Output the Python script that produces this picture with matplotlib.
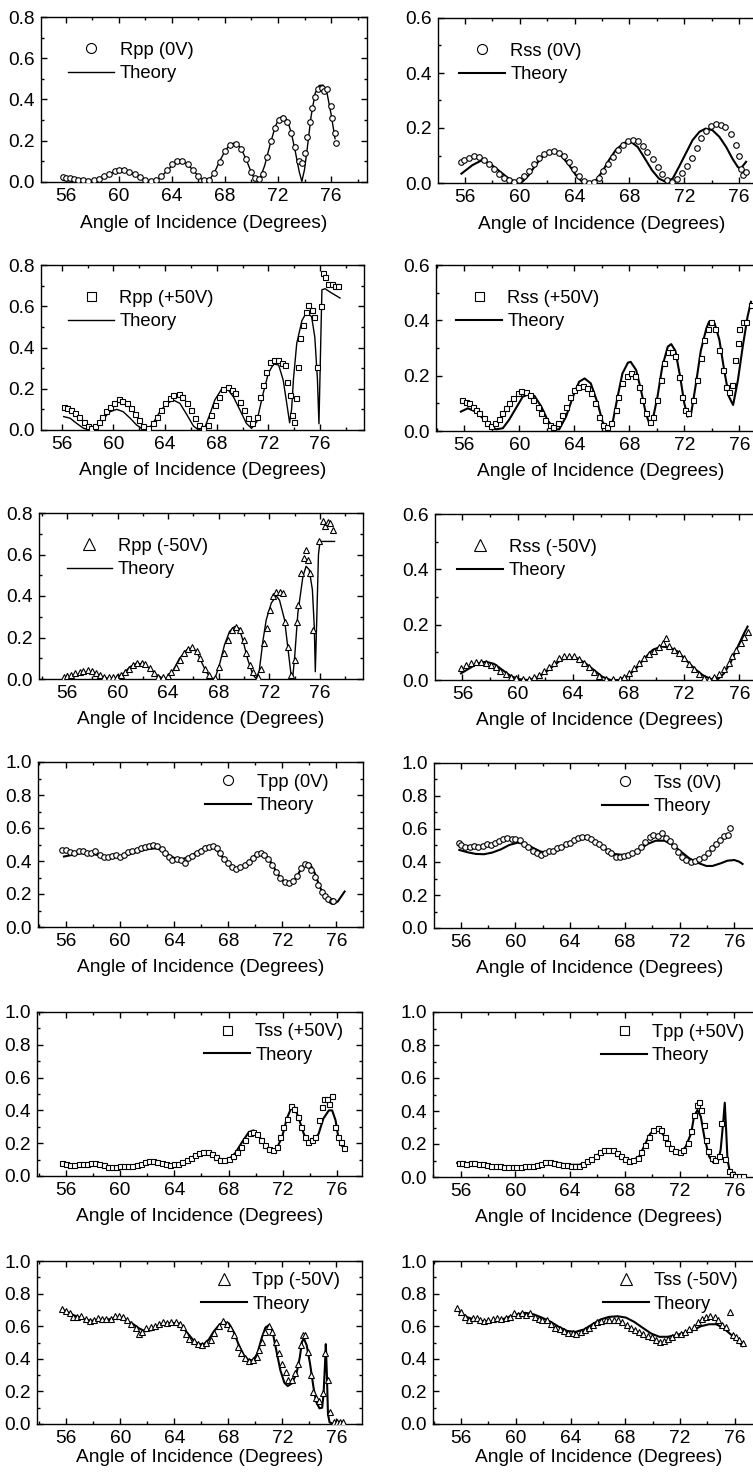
import matplotlib
matplotlib.use("Agg")
import matplotlib.pyplot as plt
from matplotlib.lines import Line2D
from matplotlib.ticker import MultipleLocator, FormatStrFormatter

plt.rcParams['font.family'] = ['Liberation Sans', 'DejaVu Sans']
plt.rcParams['font.size'] = 13

W, H = 753, 1476

# ---- Rpp (0V) ----
rpp_0v_ang = [55.8, 56.0, 56.3, 56.6, 56.9, 57.3, 57.7, 58.1, 58.5, 58.9, 59.3, 59.7, 60.0, 60.4, 60.8,
              61.2, 61.6, 62.0, 62.4, 62.8, 63.2, 63.6, 64.0, 64.4, 64.8, 65.2, 65.6, 66.0, 66.4, 66.8,
              67.2, 67.6, 68.0, 68.4, 68.8, 69.2, 69.6, 70.0, 70.3, 70.6, 70.9, 71.2, 71.5, 71.8, 72.1,
              72.4, 72.7, 73.0, 73.3, 73.6, 73.8, 74.0, 74.2, 74.4, 74.6, 74.8, 75.0, 75.3, 75.5, 75.7,
              76.0, 76.1, 76.3, 76.4]
rpp_0v = [0.022, 0.02, 0.018, 0.015, 0.012, 0.008, 0.005, 0.008, 0.015, 0.03, 0.04, 0.055, 0.06, 0.057, 0.05,
          0.04, 0.022, 0.01, 0.003, 0.01, 0.03, 0.06, 0.085, 0.1, 0.1, 0.085, 0.06, 0.03, 0.008, 0.012,
          0.045, 0.095, 0.15, 0.18, 0.185, 0.16, 0.11, 0.05, 0.02, 0.015, 0.04, 0.12, 0.2, 0.26, 0.3,
          0.31, 0.29, 0.24, 0.17, 0.1, 0.09, 0.14, 0.22, 0.29, 0.36, 0.41, 0.45, 0.455, 0.44, 0.45,
          0.37, 0.31, 0.24, 0.19]
rpp_0v_th_ang = [55.8, 56.3, 56.8, 57.2, 57.6, 58.0, 58.5, 59.0, 59.5, 60.0, 60.5, 61.0, 61.5, 62.0, 62.4,
                 62.8, 63.2, 63.6, 64.0, 64.5, 65.0, 65.5, 66.0, 66.4, 66.8, 67.2, 67.6, 68.0, 68.4, 68.8,
                 69.2, 69.6, 70.0, 70.3, 70.6, 71.0, 71.4, 71.8, 72.1, 72.4, 72.7, 73.0, 73.3, 73.6, 73.8,
                 74.0, 74.2, 74.5, 74.8, 75.1, 75.4, 75.7, 76.0, 76.3]
rpp_0v_th = [0.008, 0.006, 0.003, 0.001, 0.0, 0.004, 0.015, 0.03, 0.045, 0.053, 0.052, 0.043, 0.027, 0.01, 0.001,
             0.006, 0.025, 0.052, 0.078, 0.097, 0.092, 0.065, 0.028, 0.004, 0.008, 0.045, 0.1, 0.15, 0.183, 0.19,
             0.165, 0.11, 0.045, 0.008, 0.01, 0.08, 0.18, 0.27, 0.31, 0.32, 0.3, 0.24, 0.15, 0.05, 0.003,
             0.06, 0.16, 0.32, 0.43, 0.468, 0.47, 0.43, 0.33, 0.21]

# ---- Rss (0V) ----
rss_0v_ang = [55.7, 55.95, 56.3, 56.65, 57.0, 57.4, 57.75, 58.1, 58.5, 58.85, 59.2, 59.6, 59.95, 60.3, 60.65,
              61.05, 61.4, 61.75, 62.15, 62.5, 62.85, 63.25, 63.6, 63.95, 64.3, 64.7, 65.05, 65.4, 65.75, 66.1,
              66.45, 66.8, 67.15, 67.5, 67.9, 68.25, 68.6, 68.95, 69.3, 69.7, 70.05, 70.4, 70.75, 71.1, 71.45,
              71.8, 72.2, 72.55, 72.9, 73.25, 73.6, 73.95, 74.3, 74.65, 75.0, 75.4, 75.75, 76.0, 76.15, 76.3,
              76.5]
rss_0v = [0.077, 0.085, 0.092, 0.097, 0.095, 0.085, 0.068, 0.052, 0.034, 0.018, 0.01, 0.004, 0.01, 0.025, 0.045,
          0.068, 0.09, 0.105, 0.112, 0.116, 0.11, 0.097, 0.075, 0.05, 0.025, 0.006, 0.0, 0.004, 0.02, 0.042,
          0.068, 0.095, 0.12, 0.14, 0.154, 0.158, 0.152, 0.136, 0.112, 0.088, 0.058, 0.032, 0.012, 0.004, 0.014,
          0.036, 0.062, 0.092, 0.128, 0.163, 0.19, 0.206, 0.214, 0.212, 0.202, 0.18, 0.14, 0.1, 0.05, 0.03,
          0.04]
rss_0v_th_ang = [55.75, 56.55, 57.25, 57.85, 58.6, 59.2, 59.7, 60.2, 60.65, 61.15, 61.65, 62.15, 62.6, 63.1,
                 63.6, 64.1, 64.55, 65.05, 65.55, 66.0, 66.5, 67.0, 67.6, 68.1, 68.6, 69.05, 69.65, 70.15,
                 70.65, 71.15, 71.6, 72.1, 72.6, 73.1, 73.55, 74.05, 74.55, 75.05, 75.5, 75.9, 76.1, 76.5]
rss_0v_th = [0.034, 0.065, 0.083, 0.07, 0.04, 0.016, 0.004, 0.005, 0.028, 0.065, 0.095, 0.113, 0.113, 0.095,
             0.065, 0.028, 0.004, 0.0, 0.01, 0.04, 0.083, 0.12, 0.146, 0.15, 0.131, 0.095, 0.046, 0.016,
             0.004, 0.016, 0.058, 0.107, 0.156, 0.186, 0.198, 0.192, 0.168, 0.131, 0.089, 0.058, 0.052, 0.077]

# ---- Rpp (+50V) ----
rpp_p50_ang = [56.15, 56.4, 56.7, 57.05, 57.35, 57.7, 58.0, 58.3, 58.6, 58.85, 59.1, 59.45, 59.75, 60.05, 60.4,
               60.7, 61.05, 61.35, 61.7, 62.0, 62.3, 62.7, 63.05, 63.35, 63.65, 64.0, 64.35, 64.65, 65.05, 65.35,
               65.7, 66.0, 66.3, 66.65, 66.95, 67.3, 67.55, 67.85, 68.2, 68.5, 68.85, 69.15, 69.45, 69.8, 70.15,
               70.45, 70.75, 71.1, 71.35, 71.6, 71.85, 72.15, 72.45, 72.75, 73.05, 73.3, 73.45, 73.65, 73.8, 73.95,
               74.15, 74.3, 74.45, 74.7, 74.9, 75.1, 75.35, 75.55, 75.75, 76.05, 76.2, 76.4, 76.65, 76.9, 77.15,
               77.4]
rpp_p50 = [0.113, 0.105, 0.097, 0.084, 0.065, 0.04, 0.02, 0.01, 0.02, 0.04, 0.065, 0.09, 0.113, 0.13, 0.15,
           0.14, 0.13, 0.105, 0.08, 0.05, 0.02, 0.01, 0.032, 0.065, 0.097, 0.13, 0.153, 0.17, 0.175, 0.16,
           0.13, 0.097, 0.057, 0.024, 0.008, 0.024, 0.073, 0.12, 0.16, 0.2, 0.21, 0.194, 0.178, 0.137, 0.097,
           0.057, 0.032, 0.065, 0.16, 0.218, 0.283, 0.33, 0.34, 0.34, 0.323, 0.315, 0.234, 0.17, 0.073, 0.04,
           0.153, 0.307, 0.444, 0.51, 0.574, 0.606, 0.582, 0.55, 0.307, 0.6, 0.76, 0.74, 0.71, 0.71, 0.7,
           0.7]
rpp_p50_th_ang = [56.15, 56.65, 57.15, 57.7, 58.2, 58.7, 59.25, 59.75, 60.25, 60.75, 61.3, 61.8, 62.3, 62.7,
                  63.1, 63.6, 64.15, 64.65, 65.15, 65.7, 66.2, 66.6, 67.1, 67.5, 67.85, 68.4, 68.9, 69.3,
                  69.8, 70.3, 70.7, 71.1, 71.6, 72.0, 72.4, 72.8, 73.15, 73.4, 73.65, 73.8, 73.95, 74.2,
                  74.6, 74.95, 75.35, 75.6, 75.8, 75.92, 76.05, 76.15, 76.4, 76.75, 77.15, 77.55]
rpp_p50_th = [0.065, 0.057, 0.032, 0.008, 0.0, 0.016, 0.057, 0.089, 0.1, 0.089, 0.057, 0.024, 0.003, 0.003,
              0.036, 0.089, 0.129, 0.145, 0.129, 0.073, 0.019, 0.0, 0.016, 0.081, 0.145, 0.2, 0.194, 0.16,
              0.097, 0.032, 0.008, 0.04, 0.178, 0.275, 0.32, 0.315, 0.242, 0.14, 0.035, 0.1, 0.25, 0.42,
              0.53, 0.57, 0.55, 0.45, 0.25, 0.03, 0.4, 0.68, 0.685, 0.67, 0.655, 0.64]

# ---- Rss (+50V) ----
rss_p50_ang = [55.85, 56.1, 56.35, 56.6, 56.85, 57.1, 57.4, 57.65, 57.95, 58.25, 58.5, 58.75, 59.05, 59.25,
               59.55, 59.9, 60.15, 60.5, 60.8, 61.0, 61.35, 61.6, 61.9, 62.2, 62.45, 62.8, 63.1, 63.4, 63.7,
               64.0, 64.3, 64.6, 64.9, 65.2, 65.5, 65.8, 66.1, 66.4, 66.7, 67.0, 67.2, 67.5, 67.8, 68.1, 68.4,
               68.7, 68.95, 69.25, 69.5, 69.75, 70.0, 70.3, 70.55, 70.85, 71.1, 71.35, 71.6, 71.85, 72.05,
               72.3, 72.6, 72.9, 73.2, 73.45, 73.7, 73.95, 74.25, 74.55, 74.8, 75.05, 75.25, 75.5, 75.7, 75.9,
               76.0, 76.25, 76.5, 76.85]
rss_p50 = [0.112, 0.106, 0.1, 0.088, 0.076, 0.064, 0.046, 0.028, 0.018, 0.028, 0.042, 0.064, 0.082, 0.1,
           0.118, 0.136, 0.146, 0.142, 0.13, 0.112, 0.088, 0.064, 0.04, 0.022, 0.016, 0.03, 0.058, 0.088, 0.124,
           0.148, 0.16, 0.163, 0.154, 0.136, 0.1, 0.052, 0.022, 0.013, 0.03, 0.076, 0.124, 0.172, 0.2, 0.21, 0.2,
           0.16, 0.112, 0.064, 0.034, 0.052, 0.112, 0.184, 0.245, 0.287, 0.287, 0.27, 0.196, 0.124, 0.076,
           0.064, 0.112, 0.184, 0.263, 0.33, 0.367, 0.395, 0.367, 0.293, 0.22, 0.16, 0.142, 0.166, 0.257, 0.317,
           0.37, 0.395, 0.395, 0.455]
rss_p50_th_ang = [55.75, 56.25, 56.85, 57.35, 57.8, 58.3, 58.8, 59.25, 59.75, 60.25, 60.75, 61.1, 61.6, 62.05,
                  62.55, 62.9, 63.4, 63.9, 64.35, 64.75, 65.2, 65.7, 66.05, 66.4, 66.8, 67.15, 67.5, 67.9,
                  68.1, 68.5, 68.85, 69.2, 69.45, 69.7, 70.05, 70.4, 70.8, 71.05, 71.35, 71.7, 72.0, 72.25,
                  72.5, 72.85, 73.2, 73.6, 73.8, 74.2, 74.55, 74.9, 75.25, 75.55, 75.9, 76.25, 76.6, 76.85]
rss_p50_th = [0.07, 0.082, 0.07, 0.046, 0.022, 0.006, 0.01, 0.04, 0.082, 0.124, 0.134, 0.127, 0.088, 0.04,
              0.006, 0.006, 0.052, 0.124, 0.178, 0.19, 0.172, 0.1, 0.034, 0.004, 0.034, 0.124, 0.208, 0.247,
              0.25, 0.22, 0.148, 0.064, 0.028, 0.04, 0.124, 0.233, 0.305, 0.314, 0.29, 0.196, 0.1, 0.052,
              0.064, 0.172, 0.29, 0.37, 0.395, 0.39, 0.33, 0.22, 0.124, 0.094, 0.184, 0.305, 0.413, 0.467]

# ---- Rpp (-50V) ----
rpp_m50_ang = [55.75, 56.0, 56.3, 56.65, 57.0, 57.3, 57.65, 57.95, 58.3, 58.6, 58.95, 59.3, 59.6, 59.95, 60.25,
               60.6, 60.9, 61.25, 61.55, 61.9, 62.2, 62.55, 62.9, 63.2, 63.6, 64.0, 64.25, 64.6, 64.9, 65.25,
               65.6, 65.9, 66.25, 66.55, 66.9, 67.2, 67.7, 68.05, 68.4, 68.75, 69.05, 69.4, 69.7, 70.0, 70.15,
               70.45, 70.7, 71.1, 71.35, 71.6, 71.85, 72.05, 72.25, 72.55, 72.85, 73.1, 73.25, 73.45, 73.7, 74.0,
               74.2, 74.3, 74.5, 74.7, 74.9, 75.05, 75.2, 75.45, 75.95, 76.2, 76.4, 76.6, 76.8, 77.0]
rpp_m50 = [0.011, 0.014, 0.019, 0.027, 0.035, 0.04, 0.043, 0.039, 0.03, 0.019, 0.011, 0.008, 0.008, 0.011, 0.019,
           0.035, 0.05, 0.068, 0.076, 0.079, 0.072, 0.051, 0.03, 0.011, 0.008, 0.014, 0.035, 0.06, 0.092, 0.124,
           0.145, 0.156, 0.137, 0.1, 0.05, 0.019, 0.006, 0.06, 0.124, 0.188, 0.237, 0.253, 0.237, 0.188, 0.124,
           0.068, 0.035, 0.011, 0.05, 0.172, 0.245, 0.333, 0.4, 0.42, 0.42, 0.414, 0.277, 0.156, 0.019, 0.092,
           0.277, 0.357, 0.51, 0.583, 0.623, 0.575, 0.51, 0.237, 0.663, 0.76, 0.736, 0.755, 0.75, 0.72]
rpp_m50_th_ang = [55.75, 56.4, 57.05, 57.65, 58.25, 58.9, 59.4, 59.95, 60.45, 61.0, 61.5, 62.05, 62.55, 63.1,
                  63.6, 64.0, 64.4, 64.9, 65.45, 65.85, 66.25, 66.65, 67.0, 67.4, 67.7, 68.05, 68.45, 68.85,
                  69.25, 69.6, 69.9, 70.3, 70.7, 70.95, 71.2, 71.5, 71.75, 72.15, 72.55, 72.8, 73.2, 73.45,
                  73.7, 73.85, 74.0, 74.25, 74.65, 74.9, 75.15, 75.4, 75.55, 75.63, 75.75, 75.88, 76.0, 77.15]
rpp_m50_th = [0.003, 0.011, 0.027, 0.035, 0.024, 0.008, 0.003, 0.008, 0.027, 0.06, 0.076, 0.072, 0.05, 0.02,
              0.003, 0.003, 0.043, 0.1, 0.14, 0.148, 0.132, 0.08, 0.035, 0.003, 0.003, 0.068, 0.164, 0.229,
              0.253, 0.245, 0.188, 0.092, 0.02, 0.003, 0.04, 0.188, 0.285, 0.366, 0.4, 0.38, 0.285, 0.156,
              0.027, 0.01, 0.108, 0.317, 0.494, 0.543, 0.527, 0.43, 0.25, 0.035, 0.3, 0.6, 0.663, 0.663]

# ---- Rss (-50V) ----
rss_m50_ang = [55.9, 56.25, 56.6, 56.95, 57.35, 57.7, 58.05, 58.4, 58.75, 59.15, 59.5, 59.85, 60.35, 60.8, 61.2,
               61.55, 61.9, 62.25, 62.65, 63.0, 63.35, 63.7, 64.05, 64.45, 64.8, 65.15, 65.5, 65.9, 66.35, 66.85,
               67.35, 67.7, 68.05, 68.4, 68.75, 69.15, 69.5, 69.85, 70.2, 70.5, 70.7, 70.95, 71.3, 71.65, 72.0,
               72.4, 72.75, 73.1, 73.45, 73.85, 74.2, 74.55, 74.9, 75.25, 75.5, 75.8, 76.1, 76.35, 76.6]
rss_m50 = [0.042, 0.054, 0.063, 0.066, 0.066, 0.063, 0.054, 0.046, 0.034, 0.022, 0.012, 0.006, 0.002, 0.002, 0.01,
           0.018, 0.034, 0.048, 0.063, 0.078, 0.087, 0.085, 0.087, 0.075, 0.063, 0.046, 0.03, 0.014, 0.005, 0.002,
           0.005, 0.012, 0.027, 0.042, 0.06, 0.078, 0.094, 0.106, 0.121, 0.133, 0.151, 0.123, 0.109, 0.097, 0.078,
           0.058, 0.039, 0.022, 0.006, 0.002, 0.01, 0.02, 0.039, 0.06, 0.085, 0.109, 0.133, 0.157, 0.175]
rss_m50_th_ang = [55.9, 56.5, 57.1, 57.7, 58.3, 58.9, 59.5, 60.1, 60.7, 61.3, 61.9, 62.5, 63.1, 63.7, 64.3, 64.9,
                  65.5, 66.1, 66.7, 67.3, 67.95, 68.55, 69.15, 69.75, 70.35, 70.95, 71.55, 72.15, 72.75, 73.35,
                  73.95, 74.45, 74.9, 75.4, 75.9, 76.35, 76.6]
rss_m50_th = [0.024, 0.042, 0.06, 0.066, 0.058, 0.036, 0.014, 0.003, 0.0, 0.006, 0.024, 0.048, 0.072, 0.081,
              0.078, 0.06, 0.036, 0.012, 0.0, 0.0, 0.014, 0.042, 0.078, 0.109, 0.121, 0.118, 0.103, 0.072,
              0.042, 0.018, 0.003, 0.003, 0.024, 0.066, 0.121, 0.169, 0.193]

# ---- Tpp (0V) ----
tpp_0v_ang = [55.7, 56.0, 56.3, 56.6, 56.95, 57.25, 57.55, 57.85, 58.15, 58.5, 58.8, 59.1, 59.4, 59.7, 60.0,
              60.3, 60.6, 60.9, 61.25, 61.55, 61.85, 62.15, 62.45, 62.75, 63.1, 63.35, 63.6, 63.85, 64.2, 64.5,
              64.8, 65.05, 65.35, 65.65, 65.95, 66.3, 66.6, 66.9, 67.15, 67.4, 67.7, 68.0, 68.3, 68.6, 68.9,
              69.25, 69.5, 69.8, 70.1, 70.4, 70.65, 70.95, 71.25, 71.55, 71.85, 72.2, 72.5, 72.8, 73.1, 73.4,
              73.65, 73.9, 74.15, 74.4, 74.65, 74.9, 75.15, 75.4, 75.65, 75.75]
tpp_0v = [0.467, 0.467, 0.457, 0.447, 0.463, 0.463, 0.451, 0.451, 0.461, 0.437, 0.427, 0.423, 0.433, 0.435, 0.427,
          0.437, 0.457, 0.463, 0.467, 0.477, 0.487, 0.491, 0.495, 0.491, 0.471, 0.447, 0.423, 0.406, 0.41, 0.406,
          0.39, 0.416, 0.43, 0.447, 0.463, 0.477, 0.483, 0.491, 0.477, 0.447, 0.41, 0.386, 0.366, 0.35, 0.362,
          0.376, 0.396, 0.42, 0.44, 0.447, 0.437, 0.41, 0.376, 0.336, 0.296, 0.27, 0.266, 0.276, 0.31, 0.356,
          0.382, 0.376, 0.346, 0.306, 0.255, 0.215, 0.185, 0.169, 0.155, 0.159]
tpp_0v_th_ang = [55.85, 56.45, 57.05, 57.65, 58.3, 58.9, 59.5, 60.15, 60.75, 61.35, 62.0, 62.6, 63.1, 63.6,
                 64.05, 64.55, 65.05, 65.55, 66.05, 66.55, 66.9, 67.25, 67.65, 68.0, 68.35, 68.65, 69.0, 69.35,
                 69.75, 70.1, 70.45, 70.85, 71.2, 71.55, 71.95, 72.3, 72.7, 73.05, 73.4, 73.75, 74.05, 74.4,
                 74.75, 75.15, 75.5, 75.8, 76.1, 76.35, 76.6]
tpp_0v_th = [0.427, 0.437, 0.447, 0.447, 0.437, 0.427, 0.423, 0.427, 0.443, 0.457, 0.471, 0.477, 0.467, 0.437,
             0.416, 0.41, 0.423, 0.447, 0.471, 0.487, 0.483, 0.457, 0.416, 0.382, 0.356, 0.346, 0.356, 0.386,
             0.416, 0.443, 0.447, 0.427, 0.386, 0.336, 0.286, 0.262, 0.266, 0.302, 0.356, 0.386, 0.382, 0.326,
             0.245, 0.185, 0.149, 0.141, 0.155, 0.185, 0.215]

# ---- Tss (0V) ----
tss_0v_ang = [55.85, 56.05, 56.35, 56.65, 57.0, 57.3, 57.6, 57.9, 58.2, 58.5, 58.8, 59.1, 59.4, 59.75, 60.0,
              60.3, 60.65, 60.95, 61.25, 61.55, 61.85, 62.15, 62.45, 62.75, 63.05, 63.35, 63.7, 64.0, 64.3, 64.6,
              64.9, 65.2, 65.5, 65.8, 66.1, 66.4, 66.75, 67.0, 67.35, 67.65, 67.95, 68.25, 68.55, 68.85, 69.15,
              69.45, 69.8, 70.05, 70.4, 70.7, 71.0, 71.3, 71.6, 71.9, 72.2, 72.5, 72.85, 73.1, 73.45, 73.75,
              74.05, 74.35, 74.65, 74.95, 75.25, 75.5, 75.7]
tss_0v = [0.513, 0.503, 0.493, 0.489, 0.497, 0.493, 0.497, 0.509, 0.505, 0.517, 0.529, 0.537, 0.543, 0.539, 0.541,
          0.533, 0.509, 0.493, 0.469, 0.453, 0.443, 0.457, 0.469, 0.467, 0.483, 0.493, 0.507, 0.517, 0.533, 0.543,
          0.553, 0.553, 0.537, 0.523, 0.509, 0.493, 0.469, 0.457, 0.429, 0.433, 0.437, 0.443, 0.453, 0.469, 0.493,
          0.523, 0.549, 0.563, 0.557, 0.573, 0.543, 0.529, 0.497, 0.463, 0.433, 0.412, 0.402, 0.406, 0.416, 0.433,
          0.457, 0.483, 0.509, 0.533, 0.557, 0.563, 0.604]
tss_0v_th_ang = [55.9, 56.5, 57.1, 57.7, 58.3, 58.95, 59.55, 60.15, 60.75, 61.35, 61.85, 62.35, 62.95, 63.55,
                 64.15, 64.8, 65.4, 66.0, 66.6, 67.2, 67.85, 68.45, 69.05, 69.65, 70.25, 70.9, 71.5, 72.1,
                 72.7, 73.3, 73.95, 74.4, 75.0, 75.5, 76.0, 76.35, 76.6]
tss_0v_th = [0.473, 0.459, 0.449, 0.447, 0.457, 0.477, 0.503, 0.517, 0.509, 0.483, 0.463, 0.457, 0.463, 0.493,
             0.523, 0.549, 0.543, 0.513, 0.477, 0.449, 0.443, 0.449, 0.473, 0.509, 0.529, 0.529, 0.503, 0.463,
             0.423, 0.396, 0.376, 0.376, 0.392, 0.408, 0.412, 0.402, 0.388]

# ---- Tss (+50V) ----
tss_p50_ang = [55.7, 56.0, 56.3, 56.6, 56.95, 57.25, 57.55, 57.85, 58.15, 58.45, 58.8, 59.1, 59.4, 59.7, 60.0,
               60.3, 60.6, 60.9, 61.25, 61.55, 61.85, 62.15, 62.45, 62.75, 63.1, 63.4, 63.7, 64.0, 64.3, 64.6,
               64.95, 65.25, 65.55, 65.85, 66.15, 66.45, 66.75, 67.05, 67.4, 67.7, 68.0, 68.3, 68.6, 68.9, 69.25,
               69.55, 69.8, 70.1, 70.4, 70.7, 71.0, 71.3, 71.55, 71.8, 72.05, 72.3, 72.6, 72.85, 73.1, 73.35,
               73.65, 73.9, 74.15, 74.4, 74.65, 74.9, 75.05, 75.25, 75.45, 75.65, 75.85, 76.05, 76.3, 76.55]
tss_p50 = [0.079, 0.075, 0.069, 0.067, 0.071, 0.071, 0.073, 0.079, 0.079, 0.071, 0.065, 0.055, 0.055, 0.055, 0.059,
           0.059, 0.063, 0.063, 0.069, 0.075, 0.085, 0.091, 0.089, 0.085, 0.079, 0.071, 0.069, 0.071, 0.075, 0.085,
           0.1, 0.112, 0.13, 0.14, 0.146, 0.146, 0.136, 0.116, 0.1, 0.096, 0.106, 0.12, 0.146, 0.177, 0.217,
           0.262, 0.268, 0.254, 0.222, 0.187, 0.167, 0.156, 0.177, 0.238, 0.299, 0.35, 0.425, 0.41, 0.36, 0.299,
           0.238, 0.207, 0.217, 0.238, 0.339, 0.421, 0.472, 0.472, 0.437, 0.486, 0.299, 0.238, 0.207, 0.173]
tss_p50_th_ang = [55.7, 56.45, 57.2, 57.9, 58.65, 59.4, 60.15, 60.85, 61.6, 62.2, 62.85, 63.45, 64.05, 64.7,
                  65.2, 65.65, 66.15, 66.55, 67.0, 67.5, 68.0, 68.5, 69.0, 69.5, 69.85, 70.2, 70.7, 71.2,
                  71.55, 71.95, 72.3, 72.6, 72.85, 73.15, 73.55, 73.9, 74.3, 74.65, 75.0, 75.4, 75.65, 75.9,
                  76.1, 76.35, 76.55]
tss_p50_th = [0.075, 0.069, 0.071, 0.079, 0.065, 0.055, 0.055, 0.065, 0.075, 0.089, 0.085, 0.071, 0.071, 0.085,
              0.106, 0.132, 0.146, 0.146, 0.126, 0.096, 0.1, 0.14, 0.207, 0.268, 0.278, 0.248, 0.187, 0.156,
              0.167, 0.238, 0.35, 0.41, 0.421, 0.36, 0.258, 0.207, 0.213, 0.258, 0.35, 0.4, 0.4, 0.339,
              0.238, 0.187, 0.167]

# ---- Tpp (+50V) ----
tpp_p50_ang = [55.85, 56.1, 56.4, 56.75, 57.0, 57.35, 57.65, 57.95, 58.25, 58.55, 58.85, 59.15, 59.45, 59.8, 60.05,
               60.4, 60.7, 61.0, 61.3, 61.6, 61.9, 62.2, 62.5, 62.85, 63.1, 63.45, 63.75, 64.05, 64.35, 64.65,
               64.95, 65.25, 65.55, 65.9, 66.15, 66.5, 66.8, 67.1, 67.4, 67.7, 68.0, 68.3, 68.6, 68.95, 69.2,
               69.5, 69.8, 70.05, 70.4, 70.65, 70.9, 71.1, 71.35, 71.65, 72.0, 72.25, 72.6, 72.85, 73.05, 73.25,
               73.4, 73.55, 73.75, 73.95, 74.1, 74.35, 74.6, 74.85, 75.0, 75.35, 75.6, 75.85, 76.05, 76.35, 76.6]
tpp_p50 = [0.085, 0.085, 0.08, 0.085, 0.082, 0.078, 0.078, 0.072, 0.066, 0.064, 0.064, 0.062, 0.06, 0.058, 0.058,
           0.058, 0.064, 0.064, 0.068, 0.074, 0.08, 0.089, 0.089, 0.085, 0.08, 0.074, 0.07, 0.068, 0.064, 0.068,
           0.08, 0.095, 0.109, 0.129, 0.149, 0.161, 0.165, 0.161, 0.145, 0.125, 0.111, 0.1, 0.105, 0.115, 0.149,
           0.195, 0.245, 0.286, 0.296, 0.286, 0.245, 0.209, 0.175, 0.155, 0.149, 0.165, 0.205, 0.276, 0.376, 0.437,
           0.457, 0.406, 0.316, 0.225, 0.155, 0.115, 0.105, 0.125, 0.326, 0.109, 0.034, 0.02, 0.008, 0.004, 0.004]
tpp_p50_th_ang = [55.75, 56.5, 57.2, 57.95, 58.7, 59.4, 60.15, 60.9, 61.6, 62.2, 62.85, 63.45, 64.05, 64.65,
                  65.25, 65.75, 66.25, 66.75, 67.1, 67.6, 68.05, 68.55, 69.05, 69.4, 69.8, 70.15, 70.5, 70.9,
                  71.35, 71.75, 72.1, 72.45, 72.85, 73.05, 73.3, 73.55, 73.8, 74.15, 74.45, 74.8, 75.0, 75.2,
                  75.3, 75.4, 75.5, 75.7, 76.0, 76.6]
tpp_p50_th = [0.085, 0.08, 0.08, 0.074, 0.064, 0.06, 0.054, 0.06, 0.074, 0.089, 0.089, 0.08, 0.074, 0.074,
              0.089, 0.115, 0.149, 0.165, 0.161, 0.135, 0.109, 0.1, 0.125, 0.185, 0.256, 0.29, 0.29, 0.245,
              0.185, 0.155, 0.149, 0.185, 0.266, 0.366, 0.406, 0.366, 0.245, 0.125, 0.089, 0.095, 0.165, 0.346,
              0.45, 0.286, 0.105, 0.02, 0.004, 0.004]

# ---- Tpp (-50V) ----
tpp_m50_ang = [55.7, 55.95, 56.25, 56.5, 56.8, 57.1, 57.45, 57.75, 58.05, 58.35, 58.65, 58.95, 59.3, 59.6, 59.9,
               60.2, 60.5, 60.8, 61.15, 61.4, 61.6, 61.9, 62.25, 62.55, 62.85, 63.15, 63.45, 63.75, 64.1, 64.4,
               64.65, 64.85, 65.1, 65.45, 65.75, 66.05, 66.35, 66.7, 66.95, 67.3, 67.6, 67.9, 68.15, 68.4, 68.7,
               68.95, 69.2, 69.5, 69.8, 70.1, 70.3, 70.5, 70.75, 71.0, 71.25, 71.5, 71.75, 72.0, 72.25, 72.45,
               72.7, 72.95, 73.15, 73.35, 73.55, 73.7, 73.9, 74.1, 74.3, 74.5, 74.75, 75.0, 75.18, 75.38, 75.55,
               75.8, 76.05, 76.3, 76.5]
tpp_m50 = [0.708, 0.694, 0.678, 0.657, 0.657, 0.663, 0.645, 0.633, 0.637, 0.653, 0.645, 0.643, 0.647, 0.661, 0.661,
           0.657, 0.637, 0.616, 0.586, 0.555, 0.565, 0.586, 0.596, 0.6, 0.612, 0.627, 0.62, 0.627, 0.627, 0.612,
           0.596, 0.555, 0.524, 0.51, 0.49, 0.484, 0.494, 0.518, 0.559, 0.6, 0.631, 0.616, 0.586, 0.545, 0.473,
           0.433, 0.402, 0.388, 0.392, 0.412, 0.453, 0.504, 0.565, 0.6, 0.565, 0.504, 0.433, 0.371, 0.32, 0.273,
           0.269, 0.31, 0.371, 0.484, 0.545, 0.545, 0.443, 0.3, 0.198, 0.157, 0.143, 0.188, 0.433, 0.269, 0.076,
           0.012, 0.01, 0.01, 0.01]
tpp_m50_th_ang = [55.7, 56.05, 56.55, 57.2, 57.8, 58.4, 59.05, 59.65, 60.25, 60.9, 61.4, 61.85, 62.35, 62.85,
                  63.35, 63.85, 64.35, 64.7, 65.1, 65.45, 65.8, 66.2, 66.55, 66.9, 67.3, 67.65, 68.05, 68.4,
                  68.75, 69.15, 69.5, 69.85, 70.15, 70.5, 70.75, 71.0, 71.25, 71.55, 71.85, 72.15, 72.4, 72.7,
                  73.05, 73.3, 73.45, 73.6, 73.8, 74.05, 74.3, 74.5, 74.75, 74.95, 75.05, 75.15, 75.22, 75.3,
                  75.38, 75.5, 75.8, 76.5]
tpp_m50_th = [0.702, 0.688, 0.667, 0.647, 0.633, 0.637, 0.641, 0.649, 0.641, 0.616, 0.586, 0.569, 0.576, 0.6,
              0.616, 0.62, 0.616, 0.586, 0.545, 0.51, 0.49, 0.49, 0.518, 0.565, 0.606, 0.627, 0.616, 0.565,
              0.49, 0.422, 0.392, 0.392, 0.433, 0.535, 0.592, 0.606, 0.576, 0.453, 0.331, 0.253, 0.233, 0.249,
              0.31, 0.412, 0.504, 0.524, 0.484, 0.371, 0.229, 0.137, 0.096, 0.1, 0.18, 0.35, 0.49, 0.3,
              0.06, 0.01, 0.0, 0.0]

# ---- Tss (-50V) ----
tss_m50_ang = [55.7, 56.0, 56.3, 56.6, 56.85, 57.15, 57.4, 57.7, 58.0, 58.3, 58.6, 58.95, 59.25, 59.55, 59.85,
               60.15, 60.45, 60.75, 61.05, 61.4, 61.7, 61.95, 62.3, 62.6, 62.9, 63.2, 63.5, 63.8, 64.15, 64.4,
               64.75, 65.05, 65.35, 65.65, 65.95, 66.25, 66.6, 66.85, 67.2, 67.5, 67.8, 68.1, 68.4, 68.7, 69.0,
               69.3, 69.65, 69.95, 70.25, 70.55, 70.85, 71.15, 71.45, 71.75, 72.1, 72.4, 72.7, 73.0, 73.3, 73.6,
               73.9, 74.2, 74.55, 74.8, 75.05, 75.4, 75.65, 75.9, 76.1, 76.35, 76.6]
tss_m50 = [0.714, 0.688, 0.657, 0.637, 0.653, 0.653, 0.637, 0.633, 0.637, 0.647, 0.653, 0.645, 0.653, 0.657, 0.682,
           0.667, 0.678, 0.671, 0.678, 0.657, 0.647, 0.641, 0.637, 0.612, 0.592, 0.58, 0.569, 0.559, 0.559, 0.555,
           0.565, 0.576, 0.592, 0.606, 0.627, 0.633, 0.641, 0.637, 0.641, 0.637, 0.627, 0.606, 0.592, 0.576, 0.565,
           0.551, 0.539, 0.531, 0.518, 0.504, 0.51, 0.524, 0.535, 0.551, 0.555, 0.565, 0.58, 0.596, 0.627, 0.647,
           0.657, 0.661, 0.657, 0.637, 0.606, 0.596, 0.688, 0.545, 0.535, 0.518, 0.494]
tss_m50_th_ang = [55.8, 56.4, 57.05, 57.65, 58.25, 58.85, 59.5, 60.1, 60.7, 61.3, 61.9, 62.55, 63.15, 63.75,
                  64.35, 65.0, 65.6, 66.2, 66.8, 67.45, 68.05, 68.65, 69.25, 69.9, 70.5, 71.1, 71.7, 72.35,
                  72.95, 73.55, 74.15, 74.65, 75.15, 75.65, 76.1, 76.6]
tss_m50_th = [0.694, 0.657, 0.637, 0.631, 0.627, 0.637, 0.657, 0.673, 0.682, 0.673, 0.653, 0.627, 0.596, 0.571,
              0.565, 0.58, 0.612, 0.641, 0.657, 0.661, 0.653, 0.627, 0.592, 0.555, 0.535, 0.535, 0.545, 0.559,
              0.576, 0.6, 0.612, 0.612, 0.592, 0.555, 0.524, 0.478]

x_ticks = [56, 60, 64, 68, 72, 76]
x_label = "Angle of Incidence (Degrees)"

# layout in pixels: (left, right, top, bottom), x limits, legend side + anchor, xlabel pad
panels = [
    ("Rpp (0V)", "o", rpp_0v_ang, rpp_0v, rpp_0v_th_ang, rpp_0v_th, 0.8, 1.0,
     (41, 367, 17, 182), (54.14, 78.71), "left", (0.084, 0.85), 7),
    ("Rss (0V)", "o", rss_0v_ang, rss_0v, rss_0v_th_ang, rss_0v_th, 0.6, 1.5,
     (438, 765, 18, 183), (54.04, 77.88), "left", (0.064, 0.85), 7),
    ("Rpp (+50V)", "s", rpp_p50_ang, rpp_p50, rpp_p50_th_ang, rpp_p50_th, 0.8, 1.0,
     (41, 364, 265, 430), (54.39, 79.41), "left", (0.084, 0.85), 6),
    ("Rss (+50V)", "s", rss_p50_ang, rss_p50, rss_p50_th_ang, rss_p50_th, 0.6, 1.5,
     (436, 765, 265, 431), (53.94, 77.87), "left", (0.061, 0.85), 6),
    ("Rpp (-50V)", "^", rpp_m50_ang, rpp_m50, rpp_m50_th_ang, rpp_m50_th, 0.8, 1.0,
     (39, 363, 513, 679), (53.79, 79.40), "left", (0.085, 0.85), 6),
    ("Rss (-50V)", "^", rss_m50_ang, rss_m50, rss_m50_th_ang, rss_m50_th, 0.6, 1.5,
     (435, 765, 514, 680), (54.02, 77.86), "left", (0.068, 0.85), 6),
    ("Tpp (0V)", "o", tpp_0v_ang, tpp_0v, tpp_0v_th_ang, tpp_0v_th, 1.0, 1.5,
     (38, 363, 762, 927), (53.93, 77.96), "right", (0.893, 0.93), 6),
    ("Tss (0V)", "o", tss_0v_ang, tss_0v, tss_0v_th_ang, tss_0v_th, 1.0, 1.5,
     (434, 765, 763, 928), (54.05, 78.24), "right", (0.867, 0.93), 6),
    ("Tss (+50V)", "s", tss_p50_ang, tss_p50, tss_p50_th_ang, tss_p50_th, 1.0, 1.5,
     (37, 362, 1012, 1176), (53.86, 77.85), "right", (0.943, 0.93), 6),
    ("Tpp (+50V)", "s", tpp_p50_ang, tpp_p50, tpp_p50_th_ang, tpp_p50_th, 1.0, 1.5,
     (433, 765, 1012, 1177), (53.98, 78.24), "right", (0.938, 0.93), 6),
    ("Tpp (-50V)", "^", tpp_m50_ang, tpp_m50, tpp_m50_th_ang, tpp_m50_th, 1.0, 1.5,
     (37, 362, 1261, 1424), (53.83, 77.90), "right", (0.933, 0.93), 1),
    ("Tss (-50V)", "^", tss_m50_ang, tss_m50, tss_m50_th_ang, tss_m50_th, 1.0, 1.5,
     (433, 765, 1261, 1424), (53.94, 78.23), "right", (0.918, 0.93), 1),
]

marker_size = {"o": 4.0, "s": 3.6, "^": 4.4}

fig = plt.figure(figsize=(W / 100, H / 100), dpi=100)

for (name, mk, ang, val, th_ang, th_val, ymax, lw, box, xlim, side, anchor, lpad) in panels:
    left, right, top, bottom = box
    ax = fig.add_axes([left / W, 1 - bottom / H, (right - left) / W, (bottom - top) / H])

    ax.plot(th_ang, th_val, color="black", lw=lw, zorder=2)
    ax.plot(ang, val, linestyle="none", marker=mk, ms=marker_size[mk], mfc="white",
            mec="black", mew=0.8, zorder=3)

    ax.set_xlim(*xlim)
    ax.set_ylim(0, ymax)
    ax.set_xticks(x_ticks)
    ax.xaxis.set_minor_locator(MultipleLocator(2))
    ax.yaxis.set_major_locator(MultipleLocator(0.2))
    ax.yaxis.set_minor_locator(MultipleLocator(0.1))
    ax.yaxis.set_major_formatter(FormatStrFormatter("%.1f"))
    ax.tick_params(which="both", direction="in", top=True, right=True, width=1.0, labelsize=13.8)
    ax.tick_params(which="major", length=4, pad=4.5)
    ax.tick_params(which="minor", length=2)
    for sp in ax.spines.values():
        sp.set_linewidth(1.0)
    ax.set_xlabel(x_label, fontsize=13.8, labelpad=lpad)

    handles = [
        Line2D([], [], linestyle="none", marker=mk, ms=marker_size[mk], mfc="white", mec="black", mew=0.8),
        Line2D([], [], color="black", lw=lw),
    ]
    loc = "upper left" if side == "left" else "upper right"
    ax.legend(handles, [name, "Theory"], loc=loc, bbox_to_anchor=anchor, frameon=False,
              fontsize=13.2, handlelength=2.5, handletextpad=0.3, labelspacing=0.35,
              borderpad=0, borderaxespad=0, markerscale=1.8)

fig.savefig("out.png", dpi=100)
